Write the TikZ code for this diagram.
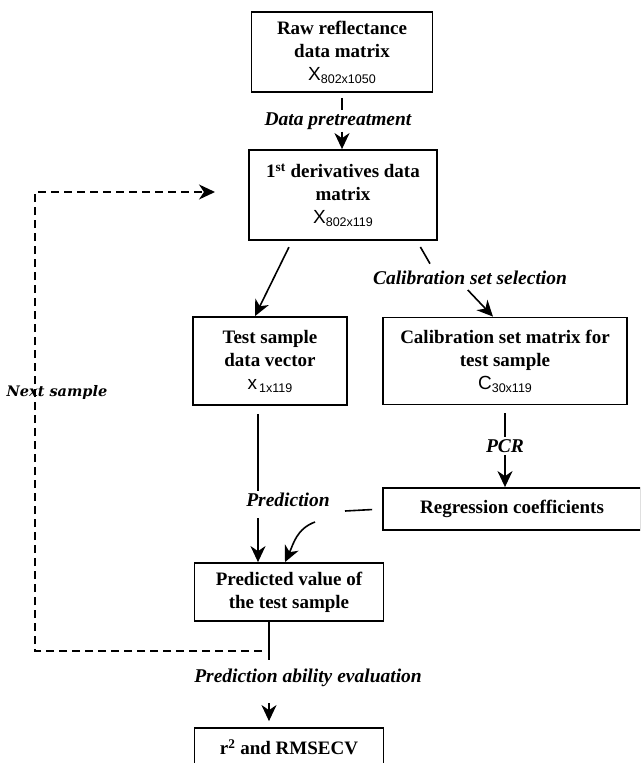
\documentclass[tikz,border=0pt]{standalone}
\usepackage{fontspec}
\setmainfont{Liberation Serif}
\setsansfont{Liberation Sans}
\newfontfamily\slabfont{DejaVu Serif}
\usetikzlibrary{arrows.meta,positioning}
\newcommand{\mtx}[2]{{\sffamily\mdseries #1\raisebox{-0.3ex}{\fontsize{12.5}{12}\selectfont #2}}}
\tikzset{
	box/.style = {draw, line width=1.8pt, align=center, inner sep=0pt,
		font=\fontsize{19}{23}\selectfont\bfseries},
	step label/.style = {font=\fontsize{19.5}{20}\selectfont\bfseries\itshape, inner sep=2pt},
	flow/.style = {line width=1.6pt, -{Stealth[length=16pt,width=15pt,inset=5pt]}},
	tick/.style = {line width=1.6pt},
}

\begin{document}
\begin{tikzpicture}[x=1pt, y=-1pt]
	\clip (0,0) rectangle (640,763);
	\fill[white] (0,0) rectangle (640,763);
	% boxes
	\node (raw) [box, minimum width=181, minimum height=80] at (342,52) {Raw reflectance \\ data matrix \\ \mtx{X}{802x1050}};
	\node (deriv) [box, minimum width=188, minimum height=90] at (343,195) {1\textsuperscript{st} derivatives data \\ matrix \\ \mtx{X}{802x119}};
	\node (test) [box, minimum width=154, minimum height=88] at (270,361) {Test sample \\ data vector \\ \mtx{x}{\,1x119}};
	\node (calib) [box, minimum width=244, minimum height=87] at (505,361) {Calibration set matrix for \\ test sample \\ \mtx{C}{30x119}};
	\node (regr) [box, minimum width=258, minimum height=42] at (512,509) {Regression coefficients};
	\node (pred) [box, minimum width=189, minimum height=58] at (289,592) {Predicted value of \\ the test sample};
	\node (final) [box, minimum width=189, minimum height=38] at (289,747) {r\textsuperscript{2} and RMSECV};
	% step labels
	\node (pretreat) [step label] at (338,121) {Data pretreatment};
	\node (calsel) [step label] at (470,278) {Calibration set selection};
	\node (pcr) [step label] at (505,446) {PCR};
	\node (predlbl) [step label] at (288,500) {Prediction};
	\node (evallbl) [step label] at (308,678) {Prediction ability evaluation};
	\node (nextlbl) [font=\fontsize{14.5}{15}\selectfont\slabfont\bfseries\itshape, fill=white, inner sep=1pt] at (57,392) {Next sample};
	% connectors
	\coordinate (kink) at (345,511);
	\coordinate (curvestart) at (315,522);
	\coordinate (loopstart) at (262,651);
	\coordinate (loopend) at (215,192);
	\coordinate (loopjoin) at (269,660);
	\draw [tick, shorten <=5pt] (raw) -- (pretreat.north -| raw);
	\draw [flow] (pretreat.south -| raw) -- (raw |- deriv.north);
	\draw [flow, shorten <=7pt] ([xshift=-51]deriv.south) -- ([xshift=-15]test.north);
	\draw [tick, shorten <=7pt, shorten >=6pt] ([xshift=-21]deriv.south east) -- ([xshift=-37]calsel.north);
	\draw [flow, shorten <=4pt] ([xshift=-5]calsel.south) -- ([xshift=-12]calib.north);
	\draw [tick, shorten <=8pt] (calib) -- (pcr);
	\draw [flow] (pcr) -- (pcr |- regr.north);
	\draw [tick, shorten <=8pt] ([xshift=-12]test.south) -- ([xshift=-12]test.south |- predlbl.north);
	\draw [flow, shorten <=9pt] ([xshift=-31]pred.north |- predlbl.south) -- ([xshift=-31]pred.north);
	\draw [tick, shorten <=10pt] (regr.west) -- (kink);
	\draw [flow] (curvestart) to[out=200, in=65] ([xshift=-4]pred.north);
	\draw [tick] ([xshift=-20]pred.south) -- (loopjoin);
	\draw [flow, shorten <=14pt, shorten >=6pt] (evallbl.south -| loopjoin) -- (loopjoin |- final.north);
	\draw [line width=1.6pt, dash pattern=on 8pt off 5pt, -{Stealth[length=16pt,width=15pt,inset=5pt]}]
		(loopstart) -| ([xshift=-180]loopend) -- (loopend);
\end{tikzpicture}
\end{document}
